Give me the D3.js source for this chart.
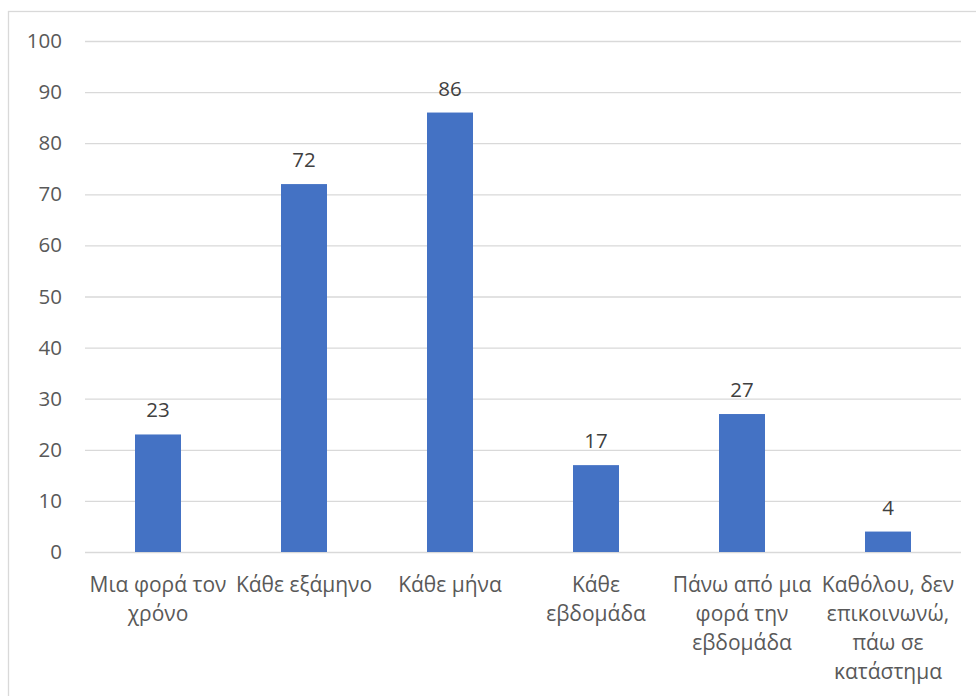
<!DOCTYPE html>
<html><head><meta charset="utf-8">
<script src="https://cdn.jsdelivr.net/npm/d3@7"></script>
<style>body{margin:0;background:#fff}svg{display:block}</style>
</head><body>
<svg id="c" width="976" height="696"></svg>
<script>
const categories = ["Μια φορά τον\nχρόνο","Κάθε εξάμηνο","Κάθε μήνα","Κάθε\nεβδομάδα","Πάνω από μια\nφορά την\nεβδομάδα","Καθόλου, δεν\nεπικοινωνώ,\nπάω σε\nκατάστημα"];
const values = [23,72,86,17,27,4];
const yTicks = [0,10,20,30,40,50,60,70,80,90,100];

const svg = d3.select("#c");
const font = "'Open Sans', 'Noto Sans', sans-serif";
svg.append("rect").attr("x",8.5).attr("y",11.5).attr("width",1000).attr("height",720)
  .attr("fill","#fff").attr("stroke","#d9d9d9").attr("stroke-width",1.3);

const x = d3.scaleBand().domain(categories).range([85,961]).paddingInner(0.685).paddingOuter(0.3425);
const y = d3.scaleLinear().domain([0,100]).range([552,41]);

const yAxis = svg.append("g").attr("transform","translate(85,0)")
  .call(d3.axisLeft(y).tickValues(yTicks).tickSize(-876).tickPadding(23));
yAxis.select(".domain").remove();
yAxis.selectAll("line").attr("stroke","#d9d9d9").attr("stroke-width",1.3);
yAxis.selectAll("text").attr("fill","#595959").attr("font-size","20.5px").attr("font-family",font);

svg.append("g").selectAll("rect").data(values).join("rect")
  .attr("x",(d,i)=>x(categories[i])).attr("width",x.bandwidth())
  .attr("y",d=>y(d)).attr("height",d=>y(0)-y(d)).attr("fill","#4472C4");

svg.append("g").selectAll("text").data(values).join("text")
  .attr("x",(d,i)=>x(categories[i])+x.bandwidth()/2).attr("y",d=>y(d)-17)
  .attr("text-anchor","middle").attr("fill","#404040").attr("font-size","20.5px").attr("font-family",font)
  .text(d=>d);

const xl = svg.append("g").selectAll("text").data(categories).join("text")
  .attr("x",d=>x(d)+x.bandwidth()/2).attr("y",592)
  .attr("text-anchor","middle").attr("fill","#595959").attr("font-size","21px").attr("font-family",font);
xl.each(function(d){
  const t=d3.select(this);
  d.split("\n").forEach((s,j)=>t.append("tspan").attr("x",t.attr("x")).attr("dy",j?29:0).text(s));
});
</script>
</body></html>
